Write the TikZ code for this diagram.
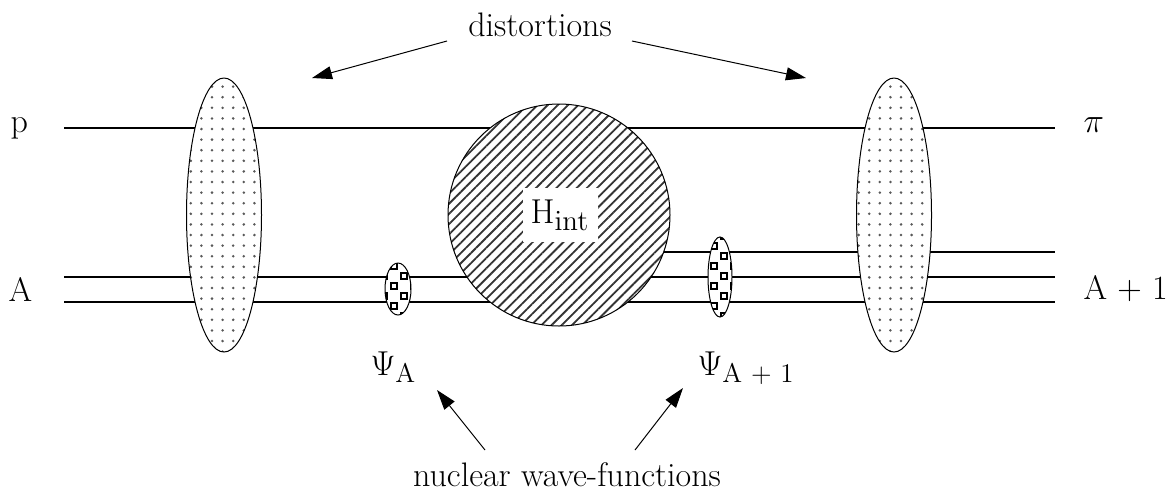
\documentclass[tikz,border=0pt]{standalone}
\usepackage{amsmath}
\DeclareMathSizes{17}{17}{13.5}{10}
\usetikzlibrary{arrows.meta,shapes.geometric,patterns.meta}
\tikzdeclarepattern{
  name=boxcheck,
  bottom left={(-0.5pt,-0.5pt)},
  top right={(10.5pt,10.5pt)},
  tile size={(10pt,10pt)},
  code={
    \draw[line width=0.9pt] (0.6pt,0.6pt) rectangle (3.6pt,3.6pt);
    \draw[line width=0.9pt] (5.6pt,5.6pt) rectangle (8.6pt,8.6pt);
  }
}
\begin{document}
\begin{tikzpicture}[x=0.5pt,y=-0.5pt,font=\fontsize{17}{20}\selectfont,
  line width=0.6pt,
  pointer/.style={-{Triangle[length=10pt,width=6.5pt]},line width=0.5pt},
  bigblob/.style={draw,ellipse,inner sep=0pt,minimum width=37.5pt,minimum height=137pt,line width=0.5pt,
    preaction={fill=white},pattern={Dots[distance=5.3pt,radius=0.7pt]},pattern color=black!65},
  wavefn/.style={draw,ellipse,inner sep=0pt,line width=0.5pt,preaction={fill=white},pattern=boxcheck},
  lbl/.style={inner sep=0pt}]
  \useasboundingbox (0,0) rectangle (1167,500);
  % particle lines
  \node[lbl,anchor=mid west] (lp) at (10,128) {p};
  \node[lbl,anchor=mid west] (lpi) at (1083,128) {$\pi$};
  \node[lbl,anchor=base west] (la) at (8,301) {A};
  \node[lbl,anchor=base west] (la1) at (1083,299) {A + 1};
  \coordinate (pin) at (64,128);   \coordinate (pout) at (1055,128);
  \coordinate (ain) at (64,277);   \coordinate (aout) at (1055,277);
  \coordinate (bin) at (64,302);   \coordinate (bout) at (1055,302);
  \coordinate (cin) at (600,252);  \coordinate (cout) at (1055,252);
  \draw (pin) -- (pout);
  \draw (ain) -- (aout);
  \draw (bin) -- (bout);
  \draw (cin) -- (cout);
  % interaction
  \node[draw,circle,inner sep=0pt,minimum size=111pt,line width=0.5pt,preaction={fill=white},
    pattern={Lines[angle=45,distance=3.6pt,line width=0.9pt]},pattern color=black!80] (hint) at (559,215) {};
  \node[fill=white,inner sep=0pt,minimum width=37.5pt,minimum height=27pt] (hlbl) at (560,215) {$\mathrm{H}_{\mathrm{int}}$};
  % distortions
  \node[bigblob] (distl) at (224,215) {};
  \node[bigblob] (distr) at (894,215) {};
  % nuclear wave functions
  \node[wavefn,minimum width=13pt,minimum height=26pt] (wfa) at (398,289) {};
  \node[wavefn,minimum width=12pt,minimum height=40pt] (wfb) at (720,277) {};
  \node[lbl,anchor=base west] (psia) at (370,375) {$\Psi_{\text{A}}$};
  \node[lbl,anchor=base west] (psib) at (697,375) {$\Psi_{\text{A + 1}}$};
  % captions
  \node[lbl,anchor=base] (dist) at (540,36) {distortions};
  \node[lbl,anchor=base] (nuc) at (567,486) {nuclear wave-functions};
  \coordinate (d1) at (447,41);  \coordinate (d1t) at (312,78);
  \coordinate (d2) at (632,41);  \coordinate (d2t) at (806,78);
  \coordinate (n1) at (485,450); \coordinate (n1t) at (437,390);
  \coordinate (n2) at (635,450); \coordinate (n2t) at (683,388);
  \draw[pointer] (d1) -- (d1t);
  \draw[pointer] (d2) -- (d2t);
  \draw[pointer] (n1) -- (n1t);
  \draw[pointer] (n2) -- (n2t);
\end{tikzpicture}
\end{document}
